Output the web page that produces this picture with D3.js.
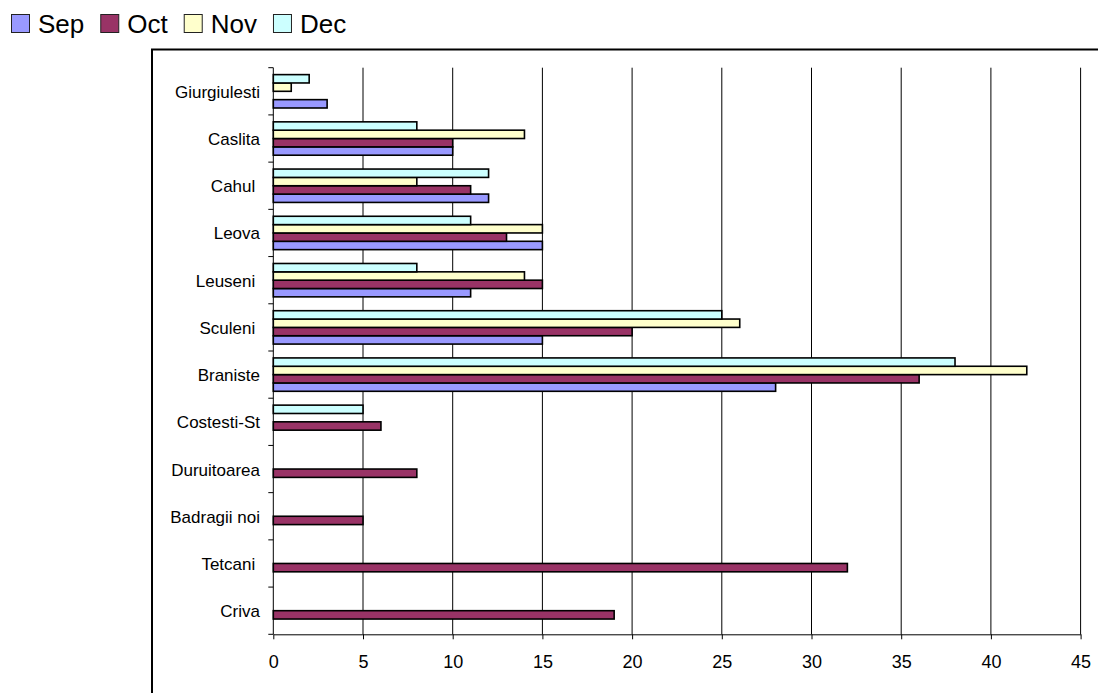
<!DOCTYPE html>
<html>
<head>
<meta charset="utf-8">
<script src="https://cdn.jsdelivr.net/npm/d3@7"></script>
<style>
  html, body { margin: 0; padding: 0; background: #fff; }
  svg { display: block; font-family: Arial, "Liberation Sans", sans-serif; }
  .cat { white-space: pre; }
</style>
</head>
<body>
<svg id="chart" width="1098" height="693"></svg>
<script>
// Border crossings, listed top to bottom (trailing spaces are part of some labels)
const categories = ["Giurgiulesti", "Caslita", "Cahul ", "Leova", "Leuseni ", "Sculeni ",
  "Braniste", "Costesti-St", "Duruitoarea", "Badragii noi", "Tetcani ", "Criva"];
const seriesNames = ["Sep", "Oct", "Nov", "Dec"];
const seriesColors = ["#9999FF", "#993366", "#FFFFCC", "#CCFFFF"];
// null = no value for that month
const sepValues = [3, 10, 12, 15, 11, 15, 28, null, null, null, null, null];
const octValues = [null, 10, 11, 13, 15, 20, 36, 6, 8, 5, 32, 19];
const novValues = [1, 14, 8, 15, 14, 26, 42, null, null, null, null, null];
const decValues = [2, 8, 12, 11, 8, 25, 38, 5, null, null, null, null];
const xTicks = [0, 5, 10, 15, 20, 25, 30, 35, 40, 45];

const seriesValues = [sepValues, octValues, novValues, decValues];

const svg = d3.select("#chart");

// outer chart frame (runs past the right and bottom edges)
svg.append("rect")
  .attr("x", 152).attr("y", 49.5)
  .attr("width", 1000).attr("height", 700)
  .attr("fill", "#fff").attr("stroke", "#000").attr("stroke-width", 2);

const plot = { left: 273.3, right: 1080.6, top: 67.7, bottom: 634.3 };

const x = d3.scaleLinear().domain([0, 45]).range([plot.left, plot.right]);
const y0 = d3.scaleBand().domain(categories).range([plot.top, plot.bottom]).padding(0);
// within a category, the last series sits on top
const y1 = d3.scaleBand().domain(seriesNames.slice().reverse())
  .range([0, y0.bandwidth()]).paddingInner(0).paddingOuter(0.83);

// vertical gridlines
svg.append("g").selectAll("line")
  .data(xTicks.filter(d => d > 0))
  .join("line")
  .attr("x1", d => x(d)).attr("x2", d => x(d))
  .attr("y1", plot.top).attr("y2", plot.bottom)
  .attr("stroke", "#000").attr("stroke-width", 1);

// bars
const bars = [];
seriesNames.forEach((s, si) => {
  categories.forEach((c, ci) => {
    const v = seriesValues[si][ci];
    if (v !== null) bars.push({ s, si, c, v });
  });
});
svg.append("g").selectAll("rect")
  .data(bars)
  .join("rect")
  .attr("x", x(0))
  .attr("y", d => y0(d.c) + y1(d.s))
  .attr("width", d => x(d.v) - x(0))
  .attr("height", y1.bandwidth())
  .attr("fill", d => seriesColors[d.si])
  .attr("stroke", "#000").attr("stroke-width", 1.6);

// x axis
const xAxis = d3.axisBottom(x).tickValues(xTicks).tickSize(5).tickSizeOuter(0).tickPadding(16);
const gx = svg.append("g").attr("transform", `translate(0,${plot.bottom})`).call(xAxis);
gx.select(".domain").attr("stroke", "#000");
gx.selectAll(".tick line").attr("stroke", "#000");
gx.selectAll(".tick text")
  .attr("fill", "#000").attr("font-size", 18)
  .attr("font-family", "Arial, 'Liberation Sans', sans-serif");

// y axis: line, ticks at category boundaries, labels centred in each band
const gy = svg.append("g");
gy.append("line")
  .attr("x1", plot.left).attr("x2", plot.left)
  .attr("y1", plot.top).attr("y2", plot.bottom)
  .attr("stroke", "#000");
const boundaries = categories.map(c => y0(c)).concat([plot.bottom]);
gy.selectAll("line.tk")
  .data(boundaries)
  .join("line")
  .attr("class", "tk")
  .attr("x1", plot.left - 5).attr("x2", plot.left)
  .attr("y1", d => d).attr("y2", d => d)
  .attr("stroke", "#000");
gy.selectAll("text")
  .data(categories)
  .join("text")
  .attr("class", "cat")
  .attr("x", 260)
  .attr("y", d => y0(d) + y0.bandwidth() / 2 + 6.5)
  .attr("text-anchor", "end")
  .attr("font-size", 17)
  .attr("fill", "#000")
  .text(d => d);

// legend
const legend = svg.append("g");
let lx = 11;
seriesNames.forEach((s, i) => {
  legend.append("rect")
    .attr("x", lx + 0.5).attr("y", 14.5)
    .attr("width", 18).attr("height", 18)
    .attr("fill", seriesColors[i]).attr("stroke", "#222").attr("stroke-width", 1);
  const t = legend.append("text")
    .attr("x", lx + 27).attr("y", 32.5)
    .attr("font-size", 26).attr("fill", "#000")
    .text(s);
  lx += 27 + t.node().getComputedTextLength() + 16;
});
</script>
</body>
</html>
